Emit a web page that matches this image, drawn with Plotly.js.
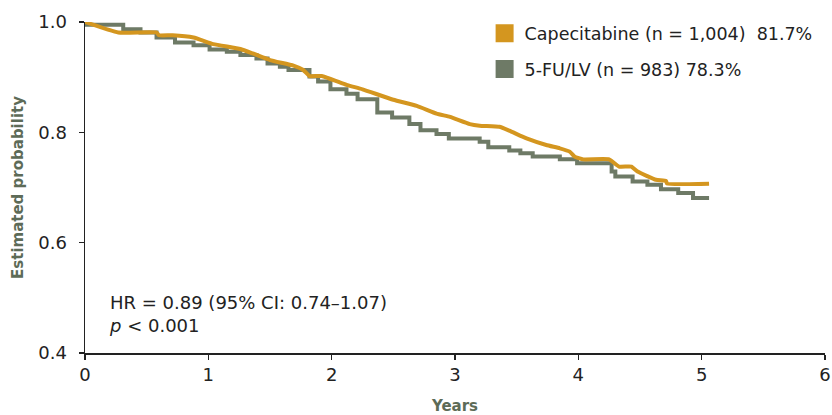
<!DOCTYPE html>
<html>
<head>
<meta charset="utf-8">
<script src="https://cdn.plot.ly/plotly-3.0.1.min.js"></script>
<style>html,body{margin:0;padding:0;background:#fff;}#chart{width:832px;height:415px;}</style>
</head>
<body>
<div id="chart"></div>
<script>
// Capecitabine (smooth KM curve)
const capeYears = [0, 0.27, 0.58, 0.60, 0.71, 0.88, 1.04, 1.26, 1.36, 1.50, 1.69, 1.77, 1.82, 1.92, 2.12, 2.25, 2.50, 2.69, 2.85, 2.96, 3.12, 3.20, 3.36, 3.44, 3.58, 3.74, 3.85, 3.93, 3.97, 4.04, 4.25, 4.33, 4.43, 4.48, 4.63, 4.71, 4.72, 5.06];
const capeProb  = [1.0, 0.981, 0.981, 0.976, 0.976, 0.972, 0.960, 0.951, 0.943, 0.931, 0.921, 0.913, 0.902, 0.902, 0.886, 0.878, 0.859, 0.848, 0.834, 0.828, 0.815, 0.812, 0.810, 0.803, 0.789, 0.777, 0.771, 0.765, 0.756, 0.751, 0.751, 0.738, 0.738, 0.729, 0.714, 0.712, 0.707, 0.707];
// 5-FU/LV (step KM curve)
const fuYears = [0, 0.31, 0.45, 0.58, 0.73, 0.88, 1.01, 1.15, 1.26, 1.39, 1.48, 1.58, 1.65, 1.82, 1.89, 1.99, 2.12, 2.21, 2.37, 2.49, 2.63, 2.72, 2.85, 2.95, 3.20, 3.27, 3.44, 3.53, 3.63, 3.85, 3.99, 4.27, 4.30, 4.44, 4.56, 4.67, 4.81, 4.93, 5.06];
const fuProb  = [0.995, 0.987, 0.981, 0.972, 0.963, 0.958, 0.950, 0.946, 0.940, 0.934, 0.925, 0.919, 0.913, 0.901, 0.892, 0.878, 0.870, 0.860, 0.836, 0.827, 0.815, 0.804, 0.797, 0.789, 0.783, 0.773, 0.767, 0.762, 0.756, 0.751, 0.744, 0.729, 0.720, 0.711, 0.705, 0.697, 0.690, 0.681, 0.681];

const seriesNames = ["Capecitabine (n = 1,004)  81.7%", "5-FU/LV (n = 983) 78.3%"];
const xTicks = [0, 1, 2, 3, 4, 5, 6];
const yTicks = [0.4, 0.6, 0.8, 1.0];
const yTickLabels = ["0.4", "0.6", "0.8", "1.0"];

const orange = "#D4961F";
const grey = "#6E7A66";
const titleColor = "#5D6B57";
const font = "DejaVu Sans, Arial, sans-serif";

const traces = [
  {x: fuYears, y: fuProb, mode: "lines", line: {shape: "hv", color: grey, width: 4}, showlegend: false, hoverinfo: "skip"},
  {x: capeYears, y: capeProb, mode: "lines", line: {shape: "spline", smoothing: 0.4, color: orange, width: 4}, showlegend: false, hoverinfo: "skip"},
  {x: [null], y: [null], mode: "markers", name: seriesNames[0], legendgroup: "a", marker: {symbol: "square", size: 16, color: orange, line: {color: orange, width: 2}}},
  {x: [null], y: [null], mode: "markers", name: seriesNames[1], legendgroup: "b", marker: {symbol: "square", size: 16, color: grey, line: {color: grey, width: 2}}}
];

const layout = {
  width: 832, height: 415,
  margin: {l: 85, r: 7, t: 22, b: 62},
  paper_bgcolor: "#fff", plot_bgcolor: "#fff",
  font: {family: font, size: 18, color: "#222"},
  xaxis: {
    range: [0, 6], tickvals: xTicks, ticks: "outside", ticklen: 5, tickwidth: 1.5, tickcolor: "#222",
    showline: true, linecolor: "#222", linewidth: 1.5, showgrid: false, zeroline: false,
    tickfont: {size: 18, family: font, color: "#222"},
    title: {text: "Years", font: {size: 15, family: font, color: titleColor, weight: "bold"}, standoff: 18},
    automargin: false
  },
  yaxis: {
    range: [0.4, 1.0], tickvals: yTicks, ticktext: yTickLabels, ticks: "outside", ticklen: 5, tickwidth: 1.5, tickcolor: "#222",
    showline: true, linecolor: "#222", linewidth: 1.5, showgrid: false, zeroline: false,
    tickfont: {size: 18, family: font, color: "#222"}, ticklabelstandoff: 8,
    title: {text: "Estimated probability", font: {size: 15, family: font, color: titleColor, weight: "bold"}, standoff: 11},
    automargin: false
  },
  showlegend: true,
  legend: {x: 0.540, y: 1.02, xanchor: "left", yanchor: "top", traceorder: "grouped", tracegroupgap: 10,
           font: {size: 17.5, family: font, color: "#222"}, bgcolor: "rgba(0,0,0,0)"},
  annotations: [{
    xref: "x", yref: "y", x: 0.18, y: 0.4705, xanchor: "left", yanchor: "middle", align: "left", showarrow: false,
    text: "HR = 0.89 (95% CI: 0.74–1.07)<br><i>p</i> < 0.001", font: {size: 18, family: font, color: "#222"}
  }]
};

Plotly.newPlot("chart", traces, layout, {displayModeBar: false, staticPlot: true});
</script>
</body>
</html>
